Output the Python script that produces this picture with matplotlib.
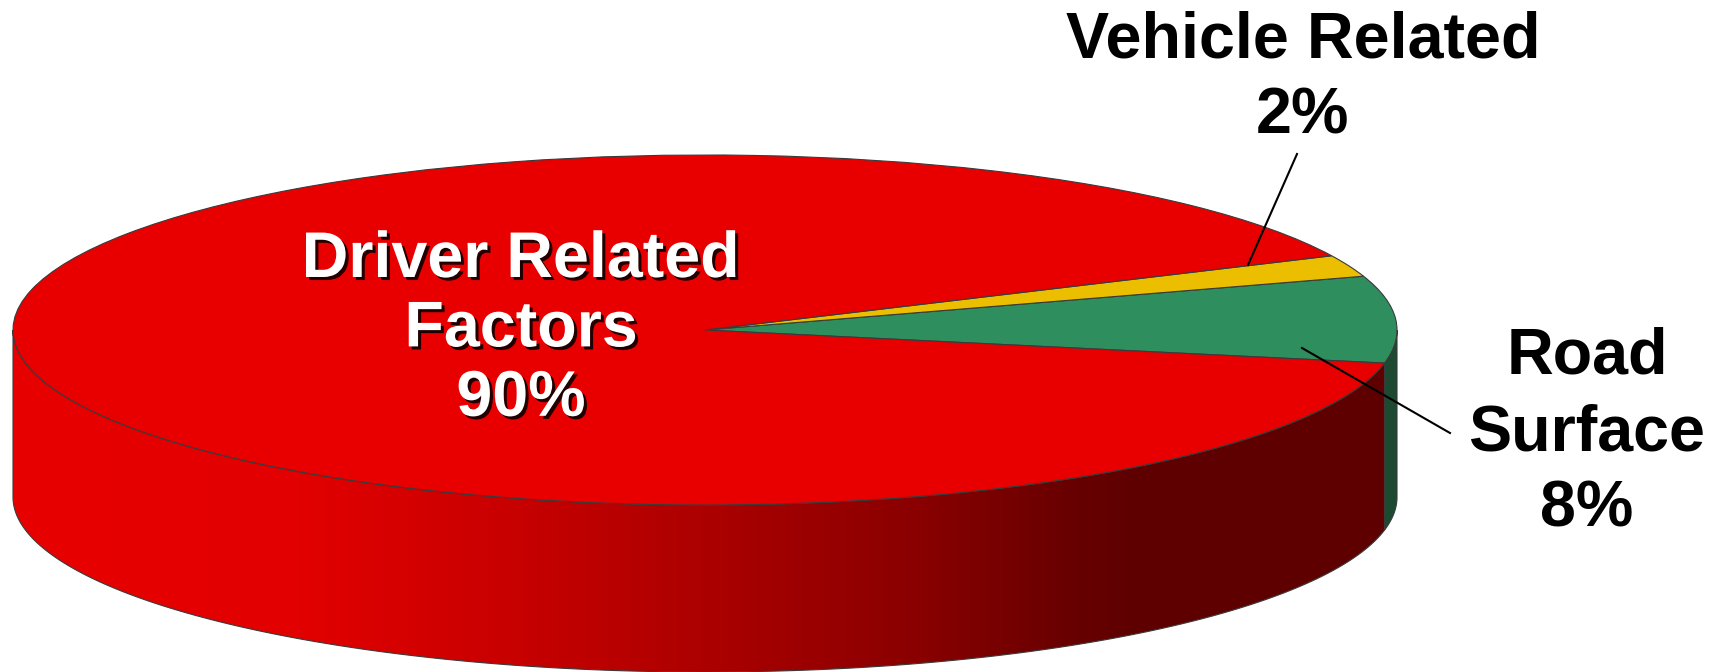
import matplotlib
matplotlib.use("Agg")
import matplotlib.pyplot as plt
import matplotlib.patheffects as pe
import numpy as np
from matplotlib.patches import Polygon
from matplotlib.transforms import Affine2D
from matplotlib.colors import LinearSegmentedColormap

# Data
categories = ["Road\nSurface", "Vehicle Related", "Driver Related\nFactors"]
shares = [8, 2, 90]
slice_colors = ["#2E8E5E", "#EBBE00", "#E80000"]
side_colors = ["#1B4A31", "#7A6200", None]  # None -> red gradient side
start_angle = -10.9

# Geometry in pixel coordinates
W, H = 1725, 672
cx, cy, rx, ry, depth = 705, 330, 692, 175, 167

fig = plt.figure(figsize=(W / 100, H / 100), dpi=100)
ax = fig.add_axes([0, 0, 1, 1])

wedges, _ = ax.pie(
    shares, colors=slice_colors, startangle=start_angle, counterclock=True,
    wedgeprops=dict(edgecolor="#3a3a3a", linewidth=0.8),
)
to_px = Affine2D().scale(rx, -ry).translate(cx, cy) + ax.transData
for w in wedges:
    w.set_transform(to_px)
    w.set_zorder(3)


def visible_arcs(t1, t2):
    arcs = []
    for k in (-360, 0, 360):
        a, b = max(t1, 180 + k), min(t2, 360 + k)
        if b > a:
            arcs.append((a, b))
    return arcs


side_cmap = LinearSegmentedColormap.from_list(
    "side", [(0, "#E80000"), (0.207, "#E20000"), (0.36, "#C80000"),
             (0.51, "#AA0000"), (0.66, "#880000"), (0.765, "#680000"),
             (0.816, "#5E0000"), (1, "#5E0000")])

for w, sc in zip(wedges, side_colors):
    for a, b in visible_arcs(w.theta1, w.theta2):
        t = np.radians(np.linspace(a, b, 200))
        xs = cx + rx * np.cos(t)
        ys = cy - ry * np.sin(t)
        pts = np.column_stack([np.r_[xs, xs[::-1]], np.r_[ys, ys[::-1] + depth]])
        if sc is None:
            poly = Polygon(pts, closed=True, facecolor="none",
                           edgecolor="#3a3a3a", linewidth=0.8, zorder=2)
            ax.add_patch(poly)
            im = ax.imshow(np.linspace(0, 1, 256)[None, :], cmap=side_cmap,
                           aspect="auto", zorder=1.5,
                           extent=(cx - rx, cx + rx, cy + ry + depth, cy))
            im.set_clip_path(poly)
        else:
            ax.add_patch(Polygon(pts, closed=True, facecolor=sc,
                                 edgecolor="#3a3a3a", linewidth=0.8, zorder=2))

ax.set_aspect("auto")
ax.set_xlim(0, W)
ax.set_ylim(H, 0)
ax.axis("off")

label_font = dict(family="Liberation Sans", weight="bold", fontsize=46.5)
labels = [f"{c}\n{s}%" for c, s in zip(categories, shares)]

# Road Surface
ax.text(1587, 327, labels[0], ha="center", va="top", color="black",
        linespacing=1.35, zorder=6, **label_font)
# Vehicle Related
ax.text(1303, 10, labels[1], ha="center", va="top", color="black",
        linespacing=1.35, zorder=6, **label_font)
# Driver Related
ax.text(521, 230, labels[2], ha="center", va="top", color="white",
        linespacing=1.2, zorder=6,
        path_effects=[pe.withSimplePatchShadow(offset=(2.2, -2.2),
                                               shadow_rgbFace="black", alpha=0.85)],
        **label_font)

# Leader lines
ax.plot([1297, 1248], [154, 265], color="black", linewidth=1.5, zorder=5)
ax.plot([1302, 1450], [348, 433], color="black", linewidth=1.5, zorder=5)

fig.savefig("out.png", dpi=100, facecolor="white")
